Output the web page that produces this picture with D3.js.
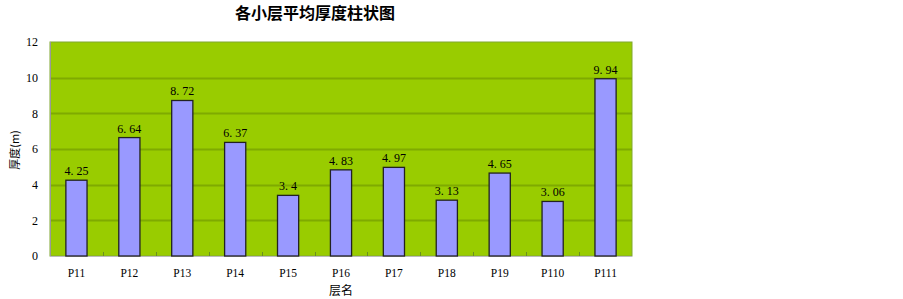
<!DOCTYPE html>
<html><head><meta charset="utf-8">
<script src="https://cdn.jsdelivr.net/npm/d3@7"></script>
<style>body{margin:0;background:#fff}</style>
</head><body>
<script>
const categories = ["P11","P12","P13","P14","P15","P16","P17","P18","P19","P110","P111"];
const values = [4.25,6.64,8.72,6.37,3.4,4.83,4.97,3.13,4.65,3.06,9.94];
const labels = ["4. 25","6. 64","8. 72","6. 37","3. 4","4. 83","4. 97","3. 13","4. 65","3. 06","9. 94"];
const yTicks = [0,2,4,6,8,10,12];
const title = "各小层平均厚度柱状图";
const xTitle = "层名";
const yTitle = "厚度(m)";

const W = 903, H = 299;
const m = {left:50, right:271, top:42, bottom:43};
const svg = d3.select("body").append("svg").attr("width",W).attr("height",H);
const pw = W - m.left - m.right, ph = H - m.top - m.bottom;
const g = svg.append("g").attr("transform",`translate(${m.left},${m.top})`);

const x = d3.scaleBand().domain(categories).range([0,pw]).paddingInner(0.6).paddingOuter(0.3);
const xb = d3.scaleBand().domain(categories).range([0,pw]);
const y = d3.scaleLinear().domain([0,12]).range([ph,0]);

g.append("rect").attr("width",pw).attr("height",ph).attr("fill","#99CC00")
  .attr("stroke","#80A830").attr("stroke-width",1);

g.selectAll(".grid").data(yTicks.filter(t=>t>0&&t<12)).join("line")
  .attr("x1",0).attr("x2",pw).attr("y1",d=>Math.round(y(d))+0.5).attr("y2",d=>Math.round(y(d))+0.5)
  .attr("stroke","#7FAA00").attr("stroke-width",2);

// left axis line
g.append("line").attr("x1",0.5).attr("x2",0.5).attr("y1",0).attr("y2",ph).attr("stroke","#999").attr("stroke-width",1);
// bottom axis line
g.append("line").attr("x1",0).attr("x2",pw).attr("y1",ph+0.5).attr("y2",ph+0.5).attr("stroke","#bbb").attr("stroke-width",1);

// x ticks at band boundaries pointing up
g.selectAll(".xt").data(categories.slice(1)).join("line")
  .attr("x1",d=>Math.round(xb(d))+0.5).attr("x2",d=>Math.round(xb(d))+0.5)
  .attr("y1",ph).attr("y2",ph-4).attr("stroke","#6a8f20");

g.selectAll(".bar").data(values).join("rect")
  .attr("x",(d,i)=>x(categories[i])).attr("width",x.bandwidth())
  .attr("y",d=>y(d)).attr("height",d=>ph-y(d))
  .attr("fill","#9999FF").attr("stroke","#222").attr("stroke-width",1.3);

g.selectAll(".lab").data(values).join("text")
  .attr("x",(d,i)=>x(categories[i])+x.bandwidth()/2).attr("y",d=>y(d)-5)
  .attr("text-anchor","middle").attr("font-family","Liberation Serif").attr("font-size",12)
  .attr("fill","#000").text((d,i)=>labels[i]);

g.selectAll(".yl").data(yTicks).join("text")
  .attr("x",-12).attr("y",d=>y(d)).attr("dy","0.35em").attr("text-anchor","end")
  .attr("font-family","Liberation Serif").attr("font-size",12).text(d=>d);

g.selectAll(".xl").data(categories).join("text")
  .attr("x",d=>xb(d)+xb.bandwidth()/2).attr("y",ph+21).attr("text-anchor","middle")
  .attr("font-family","Liberation Serif").attr("font-size",11.5).text(d=>d);

svg.append("text").attr("x",341).attr("y",295).attr("text-anchor","middle")
  .attr("font-family","Noto Sans CJK SC").attr("font-size",12).text(xTitle);

svg.append("text").attr("transform","translate(19,150) rotate(-90)").attr("text-anchor","middle")
  .attr("font-family","Noto Sans CJK SC").attr("font-size",11).text(yTitle);

svg.append("text").attr("x",315).attr("y",19).attr("text-anchor","middle")
  .attr("font-family","Noto Sans CJK SC").attr("font-weight","bold").attr("font-size",16).text(title);
</script>
</body></html>
